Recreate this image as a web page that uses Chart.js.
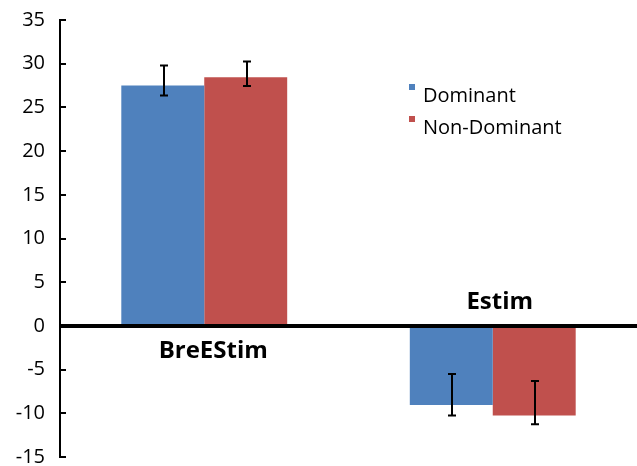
<!DOCTYPE html>
<html>
<head>
<meta charset="utf-8">
<script src="https://cdn.jsdelivr.net/npm/chart.js@4/dist/chart.umd.min.js"></script>
<style>
    body { margin: 0; background: #fff; }
    #wrap { width: 637px; height: 466px; }
</style>
</head>
<body>
<div id="wrap"><canvas id="barChart" width="637" height="466"></canvas></div>
<script>
// data
let categories = ["BreEStim", "Estim"];
let seriesNames = ["Dominant", "Non-Dominant"];
let dominant = [27.5, -9.05];
let nonDominant = [28.45, -10.25];
// error bar ends (low, high) per bar
let dominantLow = [26.35, -10.25];
let dominantHigh = [29.8, -5.5];
let nonDominantLow = [27.45, -11.25];
let nonDominantHigh = [30.25, -6.3];
let yTicks = [-15, -10, -5, 0, 5, 10, 15, 20, 25, 30, 35];

let blue = "#4F81BD";
let red = "#C0504D";
let fontName = "'Open Sans', 'Noto Sans', sans-serif";

let ctx = document.getElementById("barChart").getContext("2d");

let errorBars = [
    { low: dominantLow, high: dominantHigh },
    { low: nonDominantLow, high: nonDominantHigh }
];

// draws the error bars, zero line, inside ticks, category names and legend
let extras = {
    id: "extras",
    afterDatasetsDraw(chart) {
        let c = chart.ctx;
        let y = chart.scales.y;
        let area = chart.chartArea;
        c.save();

        // thick zero line
        c.strokeStyle = "#000";
        c.lineWidth = 4;
        c.beginPath();
        c.moveTo(area.left, y.getPixelForValue(0));
        c.lineTo(chart.width, y.getPixelForValue(0));
        c.stroke();

        // error bars
        c.lineWidth = 2;
        for (let d = 0; d < errorBars.length; d++) {
            let meta = chart.getDatasetMeta(d);
            for (let i = 0; i < meta.data.length; i++) {
                let x = Math.round(meta.data[i].x) + 1;
                let top = y.getPixelForValue(errorBars[d].high[i]);
                let bottom = y.getPixelForValue(errorBars[d].low[i]);
                c.beginPath();
                c.moveTo(x, top);
                c.lineTo(x, bottom);
                c.moveTo(x - 4, top);
                c.lineTo(x + 4, top);
                c.moveTo(x - 4, bottom);
                c.lineTo(x + 4, bottom);
                c.stroke();
            }
        }

        // tick marks pointing into the plot
        c.lineWidth = 2;
        for (let i = 0; i < yTicks.length; i++) {
            let ty = Math.round(y.getPixelForValue(yTicks[i]));
            c.beginPath();
            c.moveTo(area.left, ty);
            c.lineTo(area.left + 6, ty);
            c.stroke();
        }

        // category names: first one under the zero line, second above it
        c.fillStyle = "#000";
        c.font = "bold 24px " + fontName;
        c.textAlign = "center";
        c.textBaseline = "alphabetic";
        let xs = chart.scales.x;
        c.fillText(categories[0], xs.getPixelForValue(0) + 9, 358);
        c.fillText(categories[1], xs.getPixelForValue(1) + 7, 309);

        // legend
        let colors = [blue, red];
        let legendY = [96, 128];
        c.font = "20px " + fontName;
        c.textAlign = "left";
        c.textBaseline = "middle";
        for (let i = 0; i < seriesNames.length; i++) {
            c.fillStyle = colors[i];
            c.fillRect(409, legendY[i] - 12, 6, 6);
            c.fillStyle = "#000";
            c.fillText(seriesNames[i], 423, legendY[i]);
        }
        c.restore();
    }
};

let chartData = {
    type: "bar",
    data: {
        labels: categories,
        datasets: [
            {
                label: seriesNames[0],
                data: dominant,
                backgroundColor: blue,
                categoryPercentage: 0.575,
                barPercentage: 1
            },
            {
                label: seriesNames[1],
                data: nonDominant,
                backgroundColor: red,
                categoryPercentage: 0.575,
                barPercentage: 1
            }
        ]
    },
    options: {
        responsive: false,
        animation: false,
        layout: {
            padding: { top: 20, bottom: 9, right: 0, left: 0 }
        },
        plugins: {
            legend: { display: false },
            tooltip: { enabled: false }
        },
        scales: {
            x: {
                display: false
            },
            y: {
                min: -15,
                max: 35,
                afterBuildTicks(scale) {
                    scale.ticks = yTicks.map(v => ({ value: v }));
                },
                afterFit(scale) {
                    scale.width = 60;
                    scale.paddingTop = 0;
                    scale.paddingBottom = 0;
                },
                grid: { display: false, drawTicks: false },
                border: { display: true, color: "#000", width: 2 },
                ticks: {
                    color: "#000",
                    padding: 15,
                    font: { family: fontName, size: 20 }
                }
            }
        }
    },
    plugins: [extras]
};

let barChart = new Chart(ctx, chartData);
</script>
</body>
</html>
